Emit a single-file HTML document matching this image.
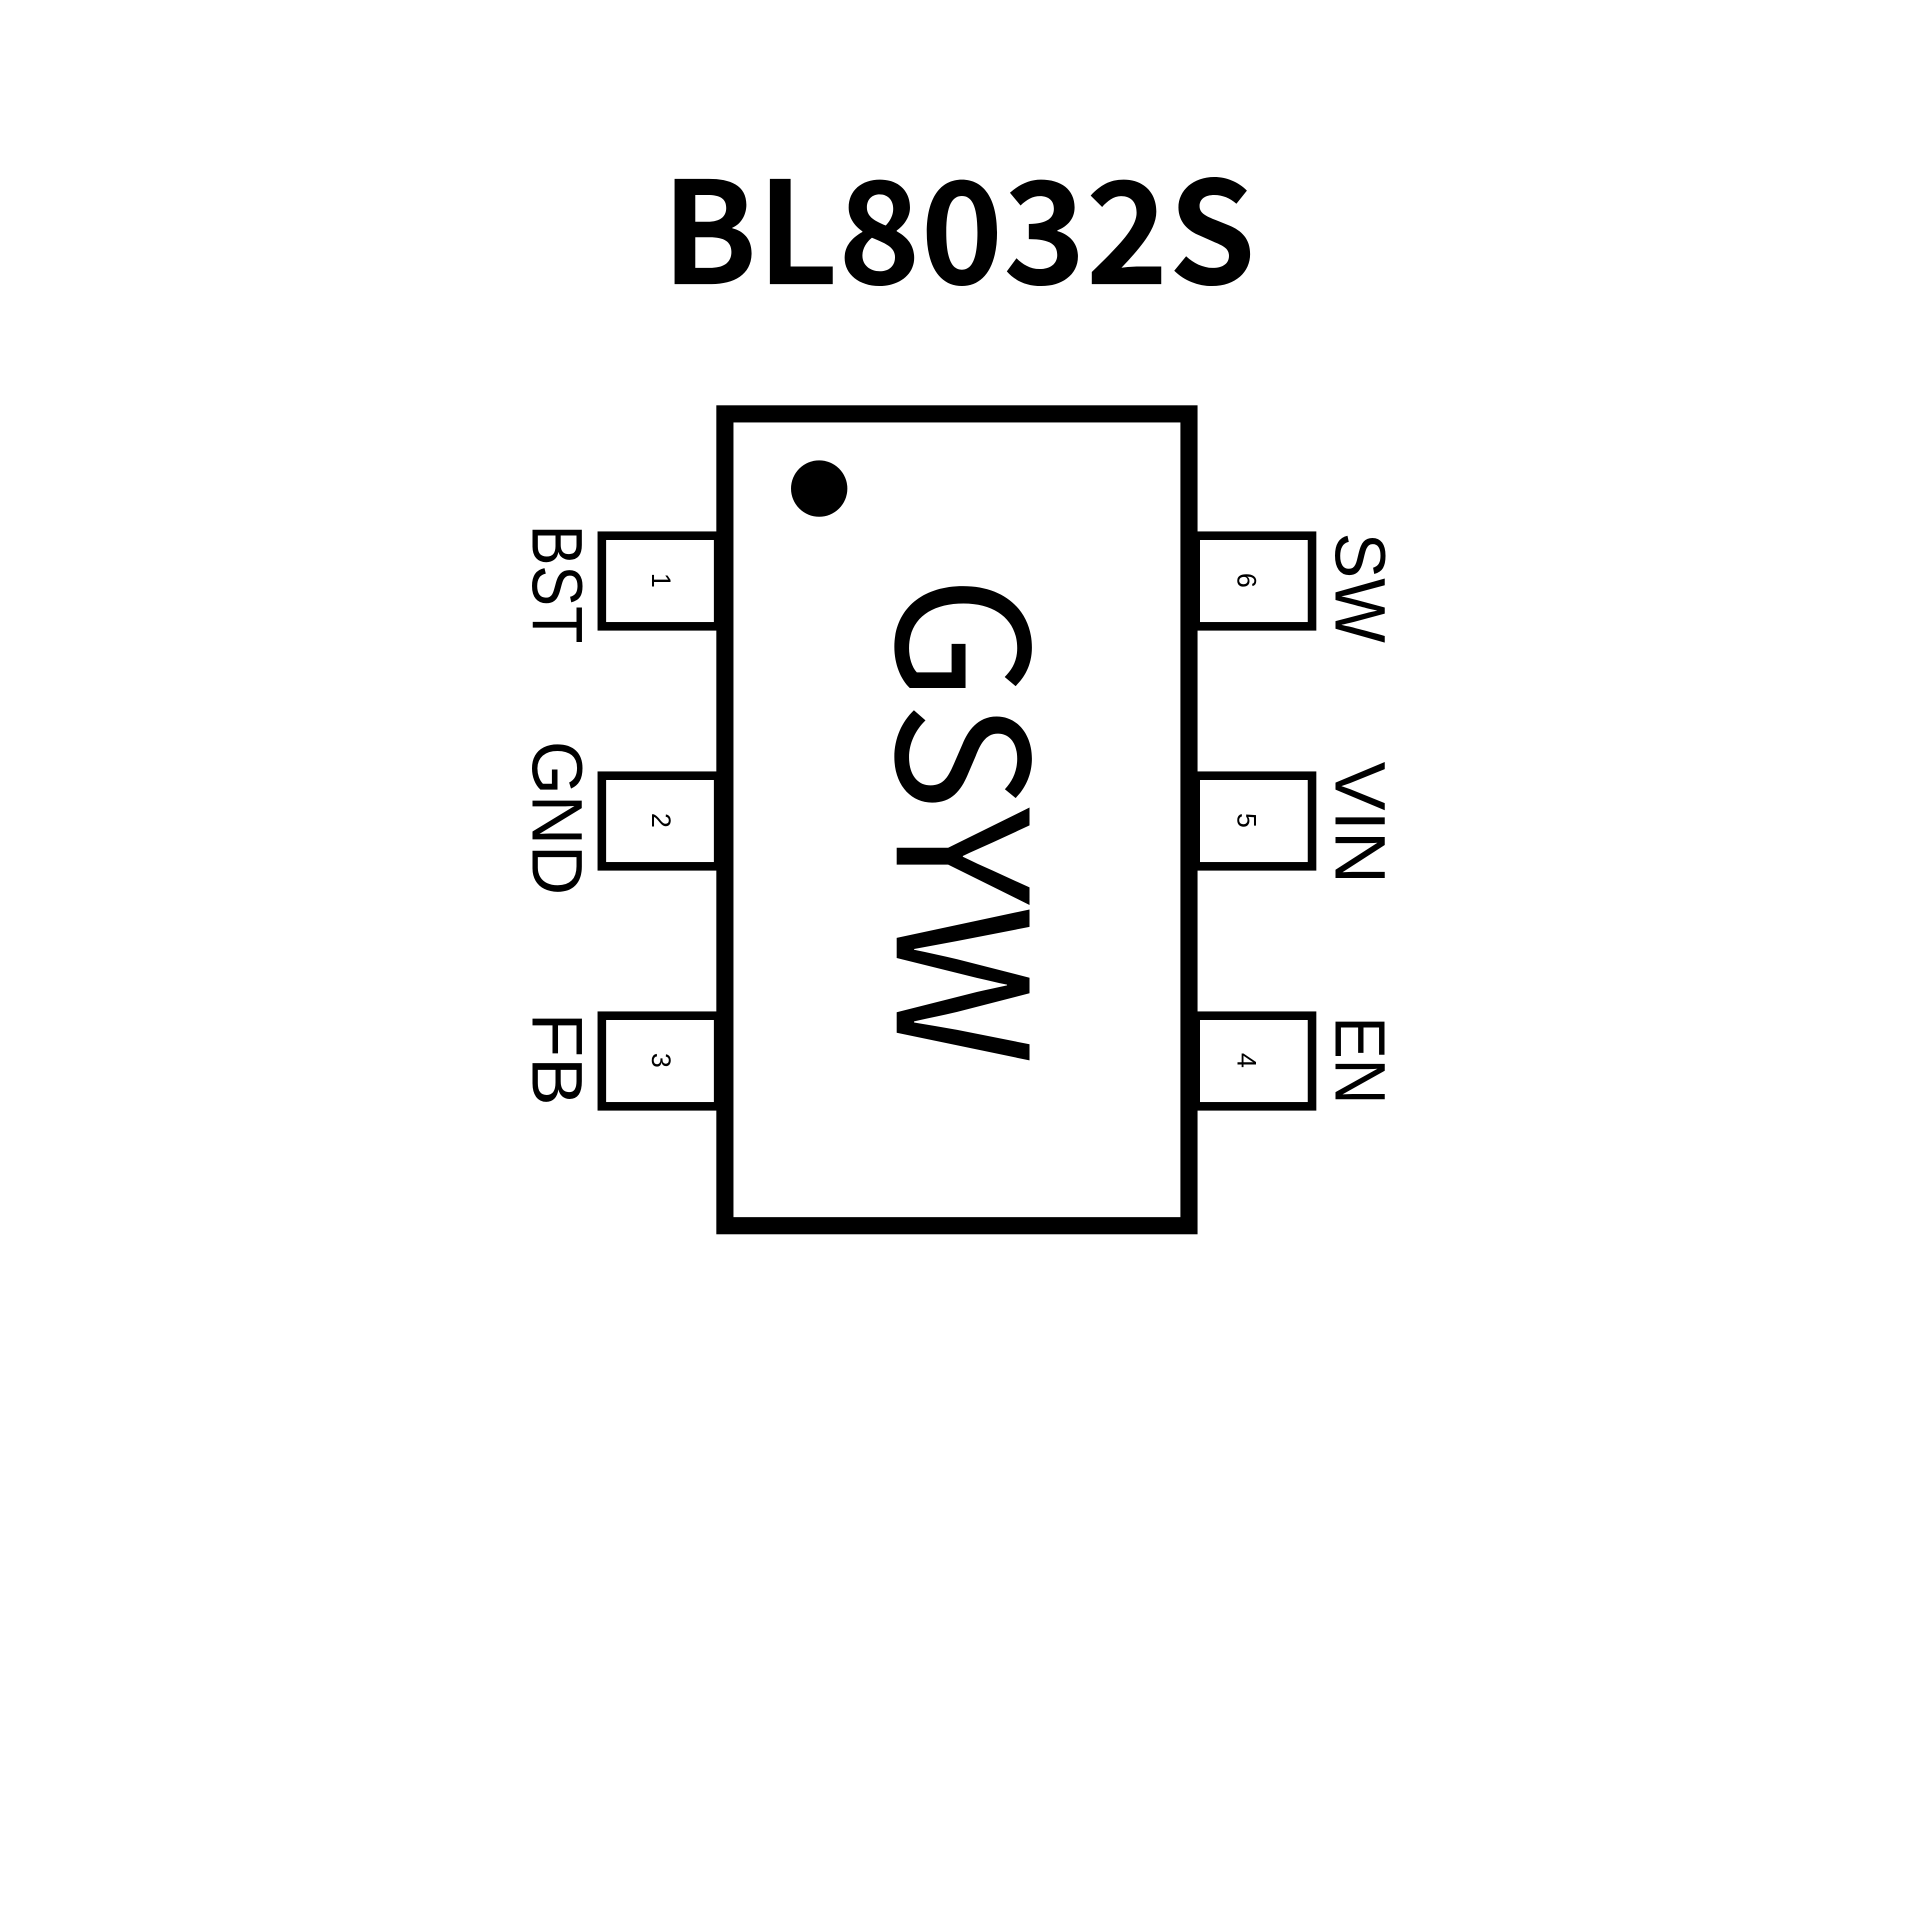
<!DOCTYPE html>
<html><head><meta charset="utf-8"><style>html,body{margin:0;padding:0;background:#fff}svg{display:block}</style></head>
<body>
<svg width="1920" height="1920" viewBox="0 0 1568 1568" xmlns="http://www.w3.org/2000/svg">
<rect width="1568" height="1568" fill="#fff"/>
<text x="783" y="232" font-family="Noto Sans CJK SC, Liberation Sans, sans-serif" font-weight="bold" font-size="116" text-anchor="middle" textLength="485" lengthAdjust="spacingAndGlyphs">BL8032S</text>
<g fill="none" stroke="#000">
<rect x="592" y="338" width="379" height="663" stroke-width="14"/>
<rect x="491.5" y="437.5" width="95" height="74" stroke-width="7"/>
<rect x="491.5" y="633.5" width="95" height="74" stroke-width="7"/>
<rect x="491.5" y="829.5" width="95" height="74" stroke-width="7"/>
<rect x="976.5" y="437.5" width="95" height="74" stroke-width="7"/>
<rect x="976.5" y="633.5" width="95" height="74" stroke-width="7"/>
<rect x="976.5" y="829.5" width="95" height="74" stroke-width="7"/>
</g>
<circle cx="669" cy="399" r="23" fill="#000"/>
<g font-family="Liberation Sans, sans-serif" text-anchor="middle" dominant-baseline="central">
<text transform="translate(540,474) rotate(90)" font-size="22">1</text>
<text transform="translate(540,670) rotate(90)" font-size="22">2</text>
<text transform="translate(540,866) rotate(90)" font-size="22">3</text>
<text transform="translate(1018,474) rotate(90)" font-size="22">6</text>
<text transform="translate(1018,670) rotate(90)" font-size="22">5</text>
<text transform="translate(1018,866) rotate(90)" font-size="22">4</text>
<text transform="translate(454,477) rotate(90)" font-size="58" textLength="97" lengthAdjust="spacingAndGlyphs">BST</text>
<text transform="translate(454,668) rotate(90)" font-size="58" textLength="126" lengthAdjust="spacingAndGlyphs">GND</text>
<text transform="translate(454,865) rotate(90)" font-size="58" textLength="76" lengthAdjust="spacingAndGlyphs">FB</text>
<text transform="translate(1110,480) rotate(90)" font-size="58" textLength="90" lengthAdjust="spacingAndGlyphs">SW</text>
<text transform="translate(1110,672) rotate(90)" font-size="58" textLength="100" lengthAdjust="spacingAndGlyphs">VIN</text>
<text transform="translate(1110,866) rotate(90)" font-size="58" textLength="72" lengthAdjust="spacingAndGlyphs">EN</text>
<text transform="translate(796,670) rotate(90)" font-family="Noto Sans CJK SC, Liberation Sans, sans-serif" font-size="148" textLength="400" lengthAdjust="spacingAndGlyphs">GSYW</text>
</g>
</svg>
</body></html>
